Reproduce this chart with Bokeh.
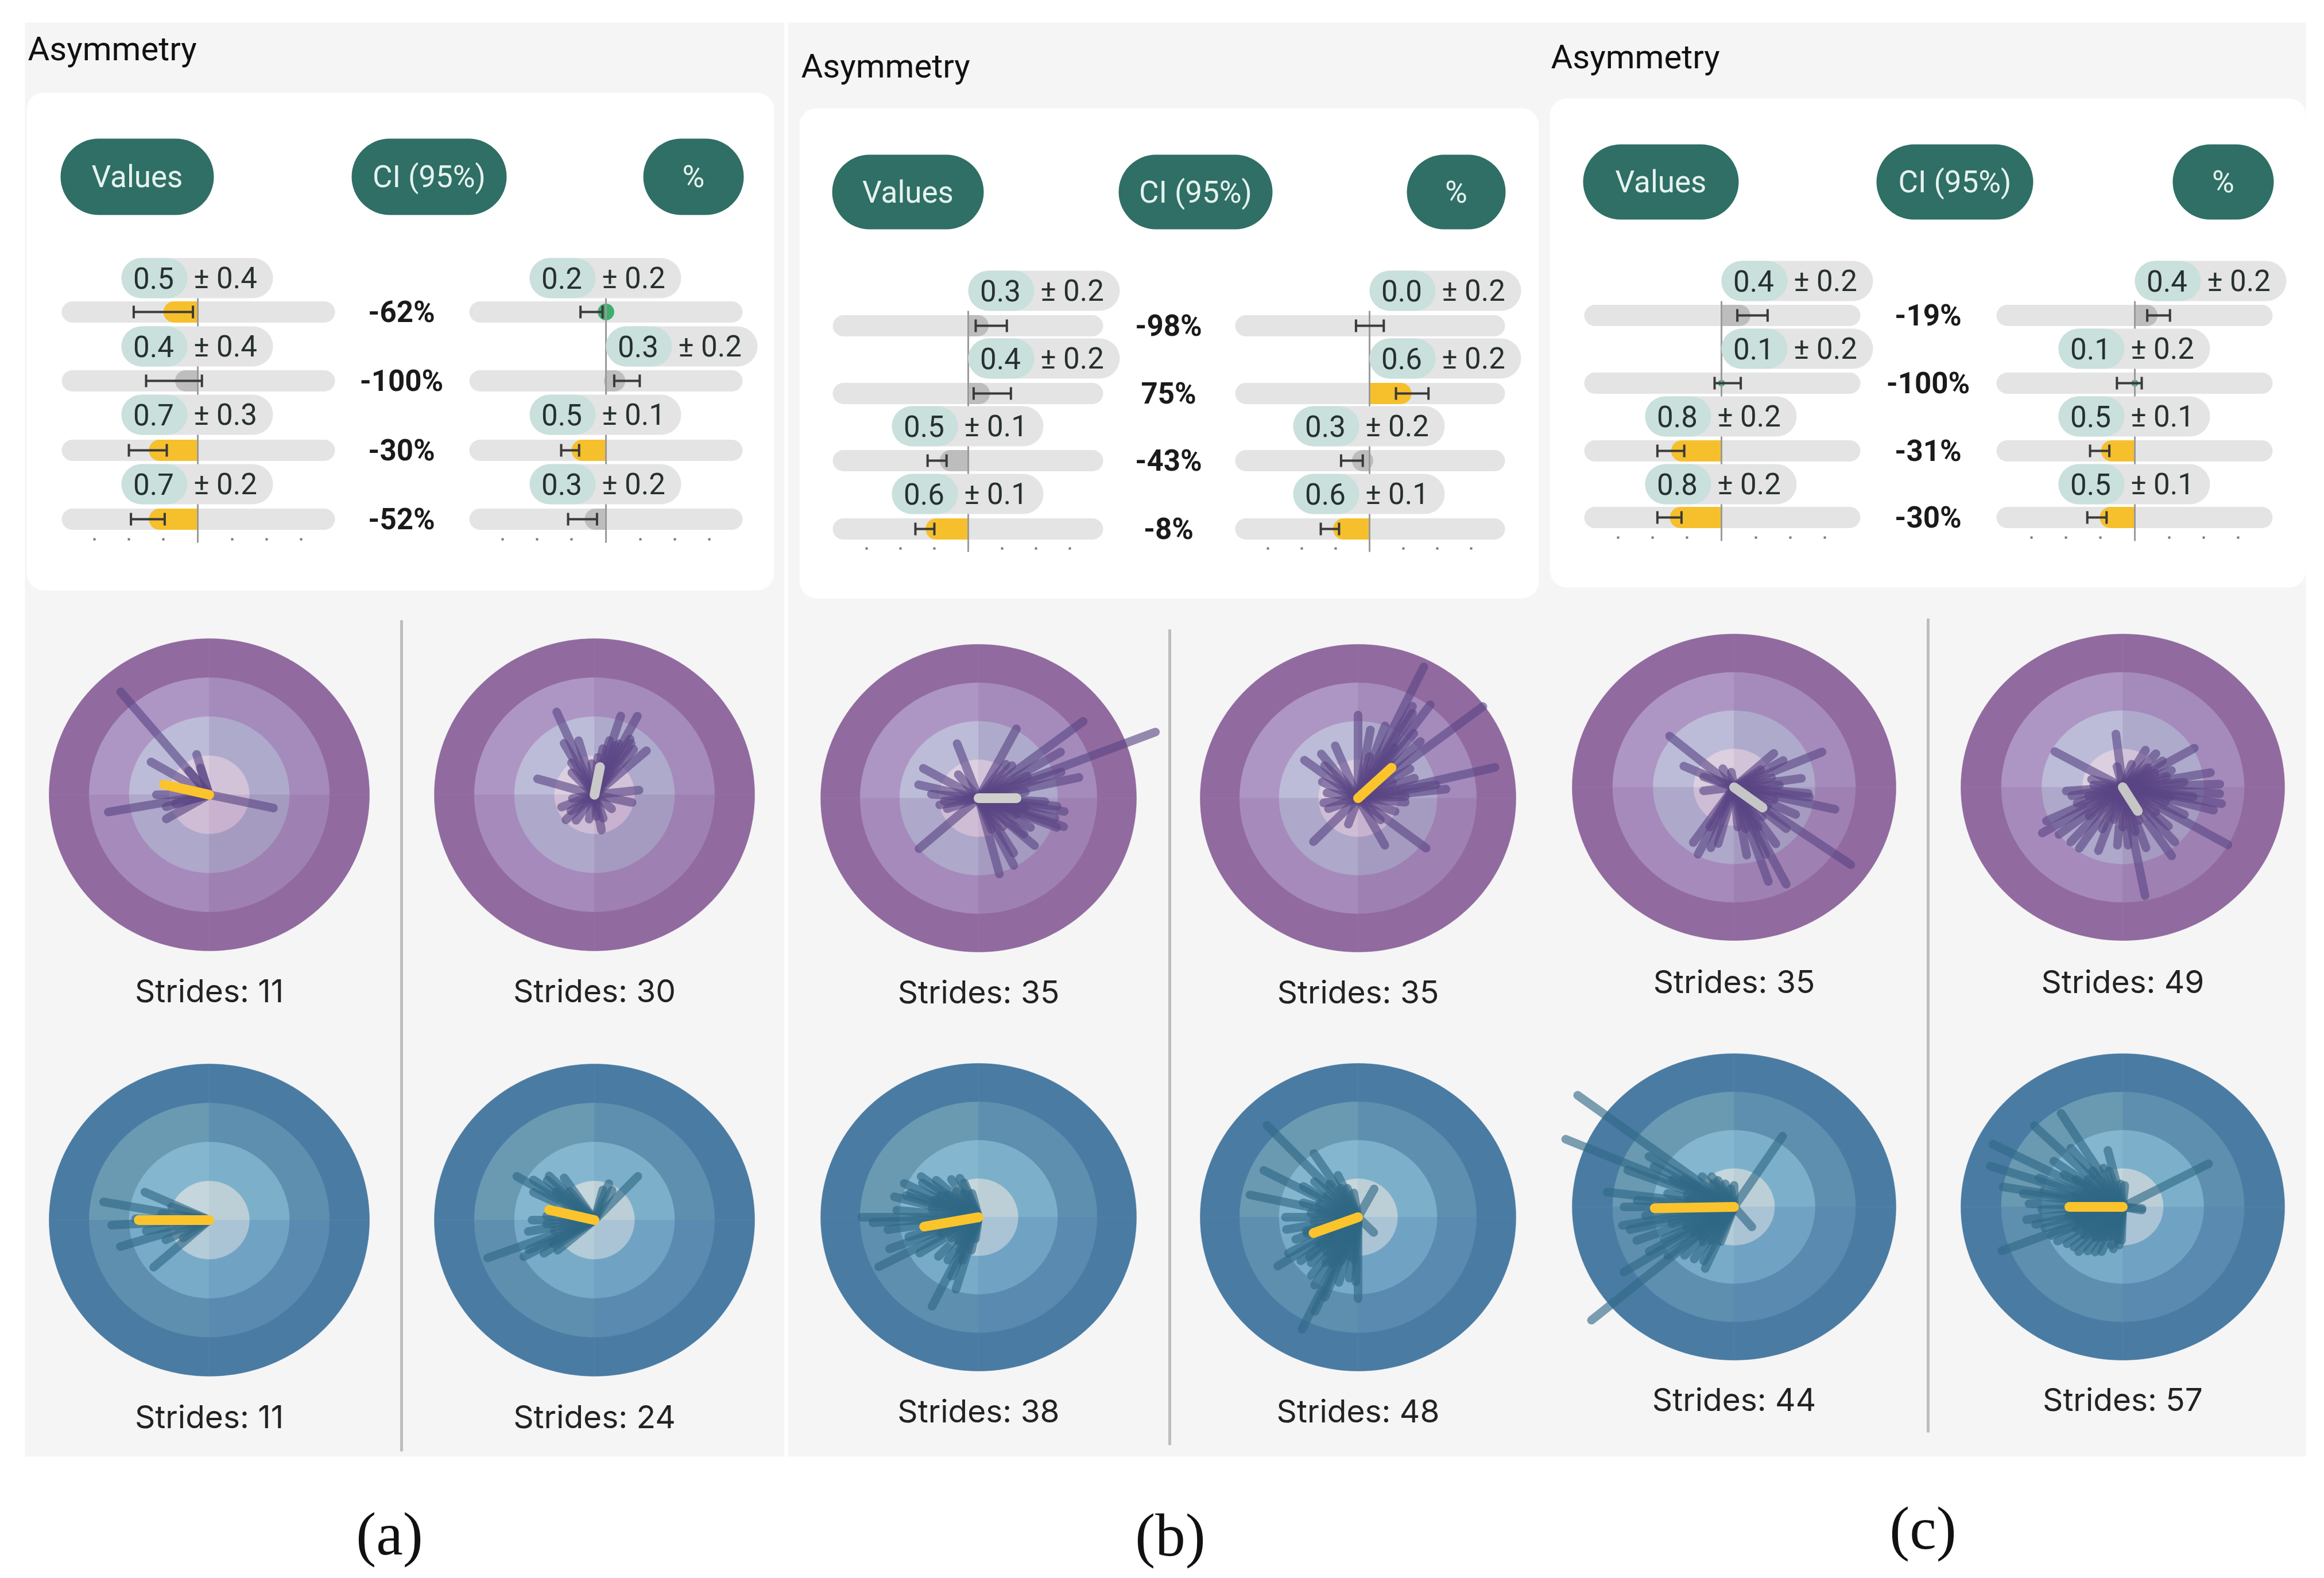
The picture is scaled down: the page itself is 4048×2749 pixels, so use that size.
import math
from bokeh.embed import file_html
from bokeh.models import BoxAnnotation, ColumnDataSource, Range1d
from bokeh.plotting import figure
from bokeh.resources import INLINE

# ---------- asymmetry tables: value pill text, signed bar means, CI ends, percent, colour ----------
a_left_text = [("0.5", "± 0.4"), ("0.4", "± 0.4"), ("0.7", "± 0.3"), ("0.7", "± 0.2")]
a_left_mean = [-0.5, -0.33, -0.71, -0.71]
a_left_ci = [(-0.93, -0.07), (-0.75, 0.06), (-1.0, -0.45), (-0.97, -0.48)]
a_left_col = ["y", "g", "y", "y"]
a_right_text = [("0.2", "± 0.2"), ("0.3", "± 0.2"), ("0.5", "± 0.1"), ("0.3", "± 0.2")]
a_right_mean = [-0.12, 0.28, -0.5, -0.31]
a_right_ci = [(-0.37, -0.05), (0.12, 0.49), (-0.65, -0.39), (-0.55, -0.13)]
a_right_col = ["e", "g", "y", "g"]
a_pct = ["-62%", "-100%", "-30%", "-52%"]

b_left_text = [("0.3", "± 0.2"), ("0.4", "± 0.2"), ("0.5", "± 0.1"), ("0.6", "± 0.1")]
b_left_mean = [0.3, 0.32, -0.42, -0.63]
b_left_ci = [(0.11, 0.57), (0.08, 0.63), (-0.6, -0.32), (-0.78, -0.5)]
b_left_col = ["g", "g", "g", "y"]
b_right_text = [("0.0", "± 0.2"), ("0.6", "± 0.2"), ("0.3", "± 0.2"), ("0.6", "± 0.1")]
b_right_mean = [0.0, 0.62, -0.26, -0.54]
b_right_ci = [(-0.2, 0.21), (0.39, 0.87), (-0.42, -0.1), (-0.72, -0.45)]
b_right_col = ["g", "y", "g", "y"]
b_pct = ["-98%", "75%", "-43%", "-8%"]

c_left_text = [("0.4", "± 0.2"), ("0.1", "± 0.2"), ("0.8", "± 0.2"), ("0.8", "± 0.2")]
c_left_mean = [0.42, 0.05, -0.73, -0.75]
c_left_ci = [(0.23, 0.67), (-0.1, 0.28), (-0.93, -0.54), (-0.93, -0.58)]
c_left_col = ["g", "e", "y", "y"]
c_right_text = [("0.4", "± 0.2"), ("0.1", "± 0.2"), ("0.5", "± 0.1"), ("0.5", "± 0.1")]
c_right_mean = [0.33, -0.05, -0.49, -0.51]
c_right_ci = [(0.18, 0.51), (-0.26, 0.1), (-0.65, -0.37), (-0.69, -0.41)]
c_right_col = ["g", "e", "y", "y"]
c_pct = ["-19%", "-100%", "-31%", "-30%"]

header_labels = ["Values", "CI (95%)", "%"]
panel_letters = ["(a)", "(b)", "(c)"]
title_text = "Asymmetry"

# ---------- stride roses: direction (deg), length (fraction of outer ring) ----------
a1_ang = [130, 107, 150, -12, 190, 210, 180, 196, 108, 130, 195]
a1_len = [.86, .27, .42, .41, .64, .31, .33, .28, .18, .2, .22]
a2_ang = [114, 72, 62, 41, 120, 106, 164, 6, -12, 222, 201, -79, 258, 50, 55, 58, 65, 68, 75, 80, 85, 95, 125, 135, 190, 215, 235, 275, 290, 320]
a2_len = [.58, .53, .57, .43, .38, .36, .37, .28, .24, .24, .22, .23, .16, .38, .4, .42, .36, .34, .36, .3, .24, .2, .25, .2, .14, .18, .2, .14, .16, .14]
a3_ang = [170, 156, 183, 197, 221, 179, 172, 160, 190, 205, 215]
a3_len = [.67, .44, .61, .58, .46, .46, .3, .25, .4, .3, .2]
a4_ang = [150, 139, 46, 69, 200, 214, 180, 146, 143, 135, 130, 125, 155, 185, 190, 195, 205, 208, 210, 75, 60, 220, 175, 165]
a4_len = [.56, .39, .39, .25, .71, .38, .39, .46, .3, .4, .24, .33, .42, .3, .42, .26, .45, .5, .3, .2, .22, .3, .3, .2]
b1_ang = [21, 37, 62, 111, 151, 167, 12, 221, 199, -9, -19, -21, -41, -75, -63, -39, 30, 25, 18, 8, 45, -3, -6, -12, -15, -25, -30, -50, -58, -68, 175, 185, 190, 130, 52]
b1_len = [1.2, .83, .51, .38, .40, .39, .65, .5, .21, .55, .57, .53, .47, .51, .49, .37, .6, .34, .55, .3, .3, .42, .5, .3, .5, .26, .38, .24, .42, .22, .3, .22, .25, .2, .28]
b2_ang = [64, 37, 13, 90, 53, 60, 144, 129, 113, 80, 43, 6, 225, -37, -61, 188, 58, 55, 50, 47, 70, 75, 30, 25, 20, 10, 2, -5, -20, -45, 135, 155, 170, 200, 250]
b2_len = [.95, .99, .89, .54, .76, .69, .42, .37, .37, .45, .54, .56, .4, .54, .35, .22, .65, .4, .55, .3, .5, .28, .38, .24, .38, .5, .3, .3, .25, .2, .3, .25, .2, .2, .18]
b3_ang = [180, 183, 207, 243, 253, 166, 155, 144, 112, 200, 130, 125, 120, 138, 150, 160, 170, 175, 188, 192, 196, 204, 212, 218, 225, 230, 235, 240, 246, 250, 258, 262, 105, 115, 142, 148, 158, 163]
b3_len = [.74, .67, .71, .65, .49, .55, .52, .45, .24, .6, .22, .3, .18, .36, .28, .46, .3, .52, .58, .34, .46, .26, .44, .22, .36, .2, .34, .24, .42, .3, .22, .14, .16, .28, .24, .42, .3, .48]
b4_ang = [134, 124, 153, 168, 244, 270, 61, -45, 212, 246, 130, 140, 145, 150, 160, 175, 180, 185, 190, 195, 200, 205, 208, 215, 218, 222, 225, 228, 232, 235, 238, 241, 248, 250, 254, 258, 262, 265, 268, 120, 115, 110, 100, 165, 172, 198, 210, 220]
b4_len = [.83, .5, .67, .7, .81, .53, .21, .14, .6, .67, .28, .36, .24, .4, .26, .3, .46, .28, .46, .34, .42, .24, .5, .3, .46, .26, .42, .3, .48, .36, .52, .34, .56, .3, .44, .26, .4, .28, .42, .22, .3, .2, .16, .36, .24, .34, .22, .4]
c1_ang = [140, 156, 23, 42, -13, -35, -63, -71, 243, 255, -5, 187, 35, 30, 15, 8, 3, -8, -18, -25, -30, -40, -48, -55, -60, -66, -75, -80, -85, 250, 240, 235, 100, 120, 160]
c1_len = [.52, .34, .59, .33, .64, .88, .71, .65, .49, .38, .46, .19, .2, .35, .24, .42, .28, .47, .26, .42, .24, .42, .26, .45, .3, .48, .28, .45, .26, .42, .3, .44, .1, .14, .2]
c2_ang = [151, 97, 30, -4, -30, -79, 211, 236, -56, 184, 47, 40, 35, 25, 20, 15, 10, 5, 2, -8, -10, -12, -15, -20, -25, -38, -42, -48, -65, -70, -75, -85, -90, 265, 255, 250, 245, 228, 222, 218, 205, 200, 195, 190, 175, 165, 105, 70, 60]
c2_len = [.48, .35, .51, .6, .75, .72, .58, .48, .54, .35, .3, .2, .3, .22, .32, .28, .55, .38, .6, .44, .62, .3, .58, .28, .42, .26, .38, .48, .24, .42, .3, .38, .26, .38, .22, .44, .3, .48, .28, .5, .52, .3, .22, .32, .18, .2, .14, .16, .28]
c3_ang = [143, 157, 57, 220, -50, 246, 212, 173, 190, 148, 150, 152, 160, 165, 168, 170, 176, 178, 180, 183, 186, 193, 196, 200, 203, 206, 209, 215, 218, 224, 226, 230, 234, 238, 242, 250, 135, 130, 125, 120, 110, 100, 90, 155]
c3_len = [1.21, 1.13, .55, 1.15, .17, .44, .8, .79, .7, .62, .36, .56, .7, .3, .42, .28, .6, .3, .68, .34, .55, .66, .4, .64, .32, .48, .6, .3, .52, .28, .44, .3, .42, .26, .4, .24, .28, .2, .24, .2, .16, .12, .14, .42]
c4_ang = [122, 136, 153, 162, 104, 28, 201, 170, 258, 128, 130, 140, 145, 148, 150, 157, 160, 165, 168, 172, 175, 178, 180, 182, 185, 188, 190, 192, 194, 196, 198, 203, 206, 209, 212, 215, 218, 221, 224, 227, 230, 233, 236, 240, 243, 246, 250, 254, 262, 265, 268, 110, 115, 95, 85, -10, -5]
c4_len = [.72, .76, .9, .86, .38, .6, .8, .75, .28, .3, .5, .28, .52, .34, .42, .24, .55, .3, .5, .62, .3, .58, .28, .5, .32, .6, .34, .55, .3, .5, .28, .48, .32, .46, .26, .42, .3, .4, .24, .4, .26, .36, .24, .34, .22, .32, .2, .26, .22, .25, .22, .25, .28, .15, .14, .12, .12]

mean_ang = [167, 79, 180, 167, 0, 43, 190, 200, -37, -59, 181, 180]
mean_len = [.29, .18, .44, .29, .24, .29, .35, .30, .22, .18, .49, .33]
mean_col = ["#fbc42d", "#c9c9c9", "#fbc42d", "#fbc42d", "#cfcfcb", "#fbc42d", "#fbc42d", "#fbc42d", "#c6c6c6", "#c6c6c6", "#fbc42d", "#fbc42d"]
strides = [11, 30, 11, 24, 35, 35, 38, 48, 35, 49, 44, 57]

# ring fills, outer to inner, per quadrant UL, UR, LL, LR
purple_rings = [("#916a9f",) * 4,
                ("#ae96c4", "#a48bbb", "#a68abb", "#9e81b2"),
                ("#bcbcd8", "#aeaacb", "#aea8cb", "#a59bc0"),
                ("#dbcfe0", "#d3c3d9", "#cfbdd6", "#c8b2cf")]
blue_rings = [("#4a7ba3",) * 4,
              ("#6a9ab2", "#5f8fae", "#5f8fae", "#5a8aaf"),
              ("#85b6cf", "#7cb0ca", "#78abc8", "#70a2c4"),
              ("#c5d6dc", "#bccfd7", "#b4cbd8", "#aac4d5")]
ring_frac = [1.0, 0.75, 0.5, 0.25]

# ---------- layout ----------
PANEL = [
    dict(title=(48, 84), card=(46, 1348, 161, 1028),
         heads=[(105, 372), (612, 882), (1120, 1295)], head_y=(241, 374),
         zero=(344, 1055), track=[(107, 583), (817, 1293)],
         rows=[543, 663, 784, 904], pills=[484, 603, 722, 843], tick_y=939, tick=60, pct_x=699,
         left=(a_left_text, a_left_mean, a_left_ci, a_left_col),
         right=(a_right_text, a_right_mean, a_right_ci, a_right_col), pct=a_pct,
         letter=(678, 2672)),
    dict(title=(1395, 114), card=(1392, 2680, 188, 1042),
         heads=[(1449, 1713), (1948, 2216), (2450, 2622)], head_y=(269, 399),
         zero=(1686, 2385), track=[(1450, 1921), (2151, 2621)],
         rows=[567, 685, 802, 921], pills=[506, 624, 742, 860], tick_y=955, tick=59, pct_x=2035,
         left=(b_left_text, b_left_mean, b_left_ci, b_left_col),
         right=(b_right_text, b_right_mean, b_right_ci, b_right_col), pct=b_pct,
         letter=(2038, 2674)),
    dict(title=(2701, 98), card=(2699, 4016, 171, 1023),
         heads=[(2757, 3028), (3268, 3541), (3784, 3960)], head_y=(251, 382),
         zero=(2998, 3718), track=[(2759, 3240), (3477, 3958)],
         rows=[549, 667, 785, 901], pills=[489, 607, 725, 843], tick_y=936, tick=60, pct_x=3358,
         letter=(3349, 2662),
         left=(c_left_text, c_left_mean, c_left_ci, c_left_col),
         right=(c_right_text, c_right_mean, c_right_ci, c_right_col), pct=c_pct),
]
# centre x, centre y, radius x, radius y, ring set, strokes, stroke colour, label y
ROSES = [
    (364, 1384, 279, 272, purple_rings, a1_ang, a1_len, 1725),
    (1035, 1384, 279, 272, purple_rings, a2_ang, a2_len, 1725),
    (364, 2125, 279, 272, blue_rings, a3_ang, a3_len, 2467),
    (1035, 2125, 279, 272, blue_rings, a4_ang, a4_len, 2467),
    (1704, 1390, 275, 268, purple_rings, b1_ang, b1_len, 1727),
    (2365, 1390, 275, 268, purple_rings, b2_ang, b2_len, 1727),
    (1704, 2120, 275, 268, blue_rings, b3_ang, b3_len, 2457),
    (2365, 2120, 275, 268, blue_rings, b4_ang, b4_len, 2457),
    (3020, 1371, 282, 267, purple_rings, c1_ang, c1_len, 1709),
    (3697, 1371, 282, 267, purple_rings, c2_ang, c2_len, 1709),
    (3020, 2102, 282, 267, blue_rings, c3_ang, c3_len, 2437),
    (3697, 2102, 282, 267, blue_rings, c4_ang, c4_len, 2437),
]

W, H = 4048, 2749
p = figure(width=W - 16, height=H - 8, x_range=Range1d(0, W - 16), y_range=Range1d(H - 8, 0),
           x_axis_type=None, y_axis_type=None, output_backend="svg", toolbar_location=None,
           min_border=0, outline_line_color=None, background_fill_color="white",
           border_fill_color="white")

FONT = "Roboto"
BAR = {"y": "#f6c02c", "g": "#bdbdbd", "e": "#3fae6e"}

for l, r, t, b in [(43, 1366, 39, 2537), (1372, 4016, 39, 2537)]:
    p.add_layout(BoxAnnotation(left=l, right=r, top=t, bottom=b, fill_color="#f5f5f5",
                               fill_alpha=1, line_color=None, level="underlay"))


def txt(x, y, s, size, color="#26302f", align="center", style="normal", font=FONT):
    p.text(x=[x], y=[y], text=[s], text_font_size=size, text_color=color, text_align=align,
           text_baseline="middle", text_font_style=style, text_font={"value": font})


def seg(x0, y0, x1, y1, width, color, cap="round", alpha=1.0):
    p.segment(x0=[x0], y0=[y0], x1=[x1], y1=[y1], line_width=width, line_color=color,
              line_cap=cap, line_alpha=alpha)


def draw_col(P, zero, track, side):
    texts, means, cis, cols = side
    scale = P["tick"] * 2  # one tick is 0.5 units
    h = 37
    y_rows, y_pills = P["rows"], P["pills"]
    for y in y_rows:
        seg(track[0] + h / 2, y, track[1] - h / 2, y, h, "#e4e4e4")
    for y, m, col in zip(y_rows, means, cols):
        px = abs(m) * scale
        if px == 0:
            continue
        sgn = 1 if m > 0 else -1
        rad = min(h / 2, px)
        p.quad(left=[min(zero, zero + sgn * (px - rad))], right=[max(zero, zero + sgn * (px - rad))],
               top=[y - h / 2], bottom=[y + h / 2], fill_color=BAR[col], line_color=None)
        p.ellipse(x=[zero + sgn * (px - rad)], y=[y], width=[2 * rad], height=[h if rad == h / 2 else 2 * rad],
                  fill_color=BAR[col], line_color=None)
    seg(zero, y_pills[0] + 35, zero, P["tick_y"] + 6, 3, "#9a9a9a", cap="butt")
    for k in (-3, -2, -1, 1, 2, 3):
        p.scatter(x=[zero + k * P["tick"]], y=[P["tick_y"]], size=4, marker="square",
                  fill_color="#777777", line_color=None)
    for y, (lo, hi) in zip(y_rows, cis):
        x0, x1 = zero + lo * scale, zero + hi * scale
        seg(x0, y, x1, y, 4, "#3a3a3a", cap="butt")
        seg(x0, y - 11, x0, y + 11, 4, "#3a3a3a", cap="butt")
        seg(x1, y - 11, x1, y + 11, 4, "#3a3a3a", cap="butt")
    for y, (a, b), m in zip(y_pills, texts, means):
        start = zero if m > 0 or (a == "0.0") else zero - 133
        seg(start + 35, y, start + 229, y, 70, "#e4e4e4")
        seg(start + 35, y, start + 80, y, 70, "#c9e0dc")
        txt(start + 56, y, a, "51px")
        txt(start + 181, y, b, "51px")


for P in PANEL:
    l, r, t, b = P["card"]
    p.add_layout(BoxAnnotation(left=l, right=r, top=t, bottom=b, fill_color="white", fill_alpha=1,
                               line_color=None, border_radius=30, level="underlay"))
    txt(P["title"][0], P["title"][1], title_text, "58px", color="#111111", align="left")
    ht, hb = P["head_y"]
    for (x0, x1), lab in zip(P["heads"], header_labels):
        hh = hb - ht
        seg(x0 + hh / 2, (ht + hb) / 2, x1 - hh / 2, (ht + hb) / 2, hh, "#2f6f65")
        txt((x0 + x1) / 2, (ht + hb) / 2, lab, "53px", color="#e6f3ef")
    draw_col(P, P["zero"][0], P["track"][0], P["left"])
    draw_col(P, P["zero"][1], P["track"][1], P["right"])
    for y, s in zip(P["rows"], P["pct"]):
        txt(P["pct_x"], y, s, "51px", color="#1a1a1a", style="bold")
    txt(P["letter"][0], P["letter"][1], panel_letters[PANEL.index(P)], "105px", color="#111111",
        font="Liberation Serif")

for x, y0, y1 in [(699, 1080, 2528), (2037, 1096, 2517), (3358, 1077, 2495)]:
    seg(x, y0, x, y1, 5, "#bdbdbd", cap="butt")

QUAD = [(90, 180), (0, 90), (180, 270), (270, 360)]
for i, (cx, cy, rx, ry, rings, ang, ln, ly) in enumerate(ROSES):
    for frac, cols in zip(ring_frac, rings):
        for (d0, d1), col in zip(QUAD, cols):
            pts = [math.radians(d0 + (d1 - d0) * k / 40) for k in range(41)]
            xs = [cx] + [cx + rx * frac * math.cos(t) for t in pts]
            ys = [cy] + [cy - ry * frac * math.sin(t) for t in pts]
            p.patch(xs, ys, fill_color=col, line_color=col, line_width=0.5)
    dark = "#5b4585" if rings is purple_rings else "#2f6885"
    src = ColumnDataSource(dict(
        x0=[cx] * len(ang), y0=[cy] * len(ang),
        x1=[cx + rx * l * math.cos(math.radians(a)) for a, l in zip(ang, ln)],
        y1=[cy - ry * l * math.sin(math.radians(a)) for a, l in zip(ang, ln)]))
    p.segment("x0", "y0", "x1", "y1", source=src, line_width=15, line_color=dark, line_alpha=0.62,
              line_cap="round")
    a, l = math.radians(mean_ang[i]), mean_len[i]
    seg(cx, cy, cx + rx * l * math.cos(a), cy - ry * l * math.sin(a), 17, mean_col[i])
    txt(cx, ly, f"Strides: {strides[i]}", "55px", color="#222222", font="Inter")

open("out.html", "w").write(file_html(p, INLINE))
